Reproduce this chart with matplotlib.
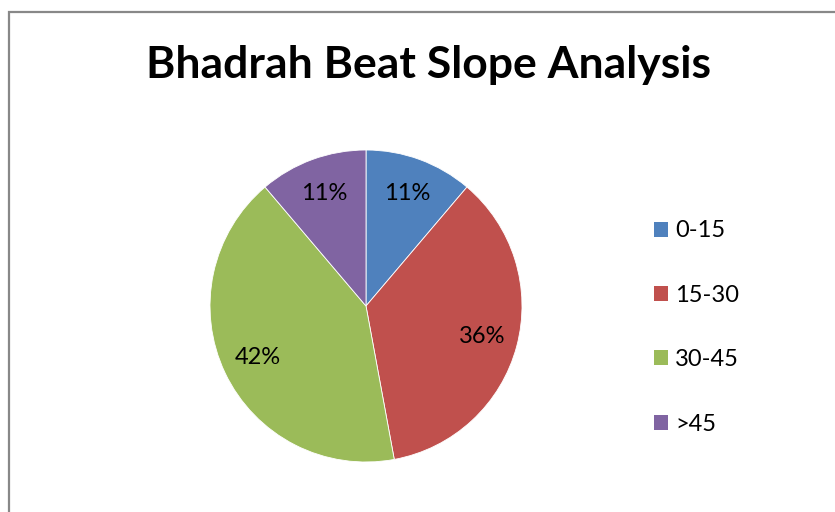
import matplotlib
matplotlib.use("Agg")
import matplotlib.pyplot as plt
from matplotlib.patches import Patch, Rectangle

categories = ["0-15", "15-30", "30-45", ">45"]
values = [11.2, 35.9, 41.7, 11.2]
colors = ["#4F81BD", "#C0504D", "#9BBB59", "#8064A2"]
title = "Bhadrah Beat Slope Analysis"

W, H = 835, 512
fig = plt.figure(figsize=(W / 100, H / 100), dpi=100)
plt.rcParams['font.family'] = ['Lato', 'DejaVu Sans']

# outer chart frame
fig.patches.append(Rectangle((9 / W, -0.1), 1.2, 1 - 12 / H + 0.1, transform=fig.transFigure,
                             fill=False, edgecolor="#888888", linewidth=1.6))

fig.text(428 / W, 1 - 78 / H, title, ha="center", va="baseline",
         fontsize=32, fontweight="bold", color="black")

cx, cy, r = 366, 306, 156
ax = fig.add_axes([(cx - r) / W, 1 - (cy + r) / H, 2 * r / W, 2 * r / H])
wedges, texts, autotexts = ax.pie(values, colors=colors, startangle=90, counterclock=False,
                                  autopct="%1.0f%%", pctdistance=0.77,
                                  wedgeprops=dict(edgecolor="white", linewidth=0.6),
                                  textprops=dict(fontsize=17, color="black"))
ax.set_xlim(-1, 1)
ax.set_ylim(-1, 1)
ax.set_aspect("equal")
ax.axis("off")

handles = [Patch(facecolor=c, edgecolor="none") for c in colors]
fig.legend(handles, categories, loc="center left", bbox_to_anchor=(654 / W, 1 - 327.5 / H),
           frameon=False, fontsize=17, handlelength=0.6, handleheight=0.6,
           handletextpad=0.3, labelspacing=1.84, borderpad=0, borderaxespad=0)

fig.savefig("out.png", dpi=100)
